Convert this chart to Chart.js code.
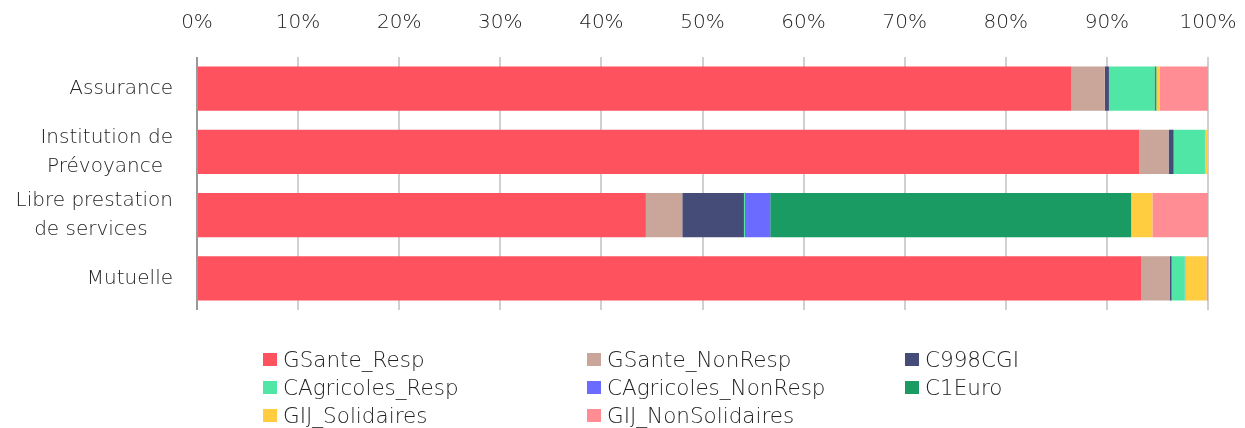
<!DOCTYPE html>
<html>
<head>
<meta charset="utf-8">
<script src="https://cdn.jsdelivr.net/npm/chart.js@4.4.1/dist/chart.umd.min.js"></script>
<style>
  body { margin: 0; background: #fff; }
  #wrap { position: relative; width: 1245px; height: 428px; }
  #chart { position: absolute; left: 0; top: 0; }
  #legend {
    position: absolute; left: 263px; top: 345px;
    display: grid; grid-template-columns: 324px 318px 300px;
    font-family: "DejaVu Sans", sans-serif; font-weight: 200; font-size: 21.5px; color: #222;
  }
  .item { display: flex; align-items: center; height: 28px; }
  .box { width: 14px; height: 13px; margin-right: 6px; }
</style>
</head>
<body>
<div id="wrap">
  <canvas id="chart" width="1245" height="348"></canvas>
  <div id="legend"></div>
</div>
<script>
const categories = [
  "Assurance",
  ["Institution de", "Prévoyance\u2002"],
  ["Libre prestation", "de services    "],
  "Mutuelle"
];
const seriesNames = ["GSante_Resp", "GSante_NonResp", "C998CGI", "CAgricoles_Resp",
  "CAgricoles_NonResp", "C1Euro", "GIJ_Solidaires", "GIJ_NonSolidaires"];
const seriesColors = ["#ff525f", "#c9a59a", "#464c78", "#50e6a5",
  "#6b6bff", "#1a9b63", "#ffcd3f", "#ff8d93"];

// share of each category, in %
const gsanteResp = [86.5, 93.2, 44.4, 93.4];
const gsanteNonResp = [3.3, 2.9, 3.6, 2.8];
const c998cgi = [0.4, 0.5, 6.1, 0.2];
const cagricolesResp = [4.5, 3.1, 0.1, 1.3];
const cagricolesNonResp = [0, 0, 2.5, 0.05];
const c1euro = [0.2, 0, 35.7, 0];
const gijSolidaires = [0.3, 0.3, 2.1, 2.1];
const gijNonSolidaires = [4.8, 0, 5.5, 0.2];
const xTicks = [0, 10, 20, 30, 40, 50, 60, 70, 80, 90, 100];

const values = [gsanteResp, gsanteNonResp, c998cgi, cagricolesResp,
  cagricolesNonResp, c1euro, gijSolidaires, gijNonSolidaires];

const font = { family: "'DejaVu Sans', sans-serif", size: 20, weight: 200, lineHeight: 1.45 };

const chart = new Chart(document.getElementById("chart"), {
  type: "bar",
  data: {
    labels: categories,
    datasets: seriesNames.map((name, i) => ({
      label: name,
      data: values[i],
      backgroundColor: seriesColors[i],
      borderWidth: 0,
      barPercentage: 0.7,
      categoryPercentage: 1
    }))
  },
  options: {
    indexAxis: "y",
    responsive: false,
    animation: false,
    layout: { padding: { left: 0, right: 37, top: 0, bottom: 38 } },
    plugins: { legend: { display: false }, tooltip: { enabled: false } },
    scales: {
      x: {
        position: "top",
        stacked: true,
        min: 0,
        max: 100,
        afterFit: (s) => { s.height = 57; s.paddingLeft = 0; s.paddingRight = 0; },
        afterBuildTicks: (s) => { s.ticks = xTicks.map(v => ({ value: v })); },
        ticks: { callback: v => v + "%", color: "#222", font: font, padding: 20 },
        grid: {
          drawTicks: false,
          color: ctx => ctx.index === 0 ? "#999" : "#d0d0d0",
          lineWidth: 2
        },
        border: { display: false }
      },
      y: {
        stacked: true,
        afterFit: (s) => { s.width = 197; s.paddingTop = 0; s.paddingBottom = 0; },
        ticks: { color: "#222", font: font, padding: 16 },
        grid: { display: false },
        border: { display: false }
      }
    }
  }
});

const legend = document.getElementById("legend");
seriesNames.forEach((name, i) => {
  const item = document.createElement("div");
  item.className = "item";
  item.innerHTML = '<span class="box" style="background:' + seriesColors[i] + '"></span>' + name;
  legend.appendChild(item);
});
</script>
</body>
</html>
